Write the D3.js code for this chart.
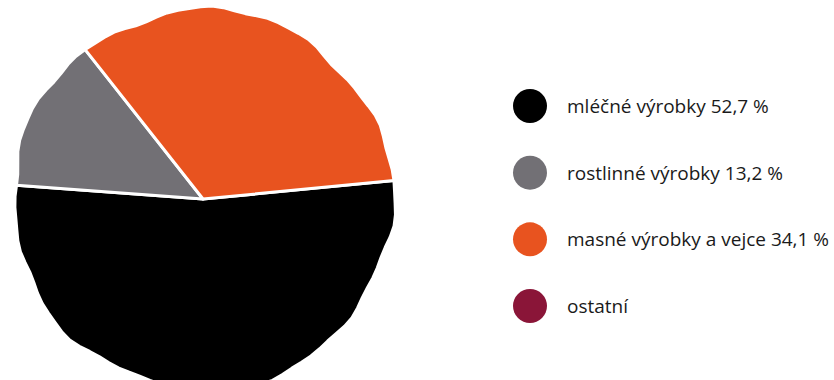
<!DOCTYPE html>
<html>
<head>
<meta charset="utf-8">
<script src="https://cdn.jsdelivr.net/npm/d3@7"></script>
<style>
  body { margin: 0; background: #fff; }
  svg { display: block; }
</style>
</head>
<body>
<div class="chart"></div>
<script>
const categories = ['mléčné výrobky', 'rostlinné výrobky', 'masné výrobky a vejce', 'ostatní']
const values = [52.7, 13.2, 34.1, 0]
const value_labels = ['52,7 %', '13,2 %', '34,1 %', '']
const colors = ['#000000', '#727075', '#e8531f', '#8a1538']

const width = 834
const height = 380
const cx = 203, cy = 199
const radius = 190

const svg = d3.select('.chart').append('svg')
  .attr('width', width)
  .attr('height', height)

const start = 84.5 * Math.PI / 180
const pie = d3.pie()
  .sort(null)
  .value(d => d.val)
  .startAngle(start)
  .endAngle(start + 2 * Math.PI)

const data = categories.map((c, i) => ({ name: c, val: values[i], label: value_labels[i], color: colors[i] }))

// hand-drawn look: slightly wobbly rim
const rim = a => radius * (1 + 0.012 * Math.sin(5 * a + 0.5) + 0.008 * Math.sin(11 * a + 2) + 0.004 * Math.sin(23 * a))

const radial = d3.lineRadial()
  .angle(d => d[0])
  .radius(d => d[1])
  .curve(d3.curveLinearClosed)

function slicePath(d) {
  const pts = [[0, 0]]
  const n = Math.max(2, Math.ceil((d.endAngle - d.startAngle) / 0.06))
  for (let k = 0; k <= n; k++) {
    const a = d.startAngle + (d.endAngle - d.startAngle) * k / n
    pts.push([a, rim(a)])
  }
  return radial(pts)
}

const g = svg.append('g')
  .attr('transform', `translate(${cx}, ${cy})`)

g.selectAll('path')
  .data(pie(data).filter(d => d.data.val > 0))
  .enter()
  .append('path')
  .attr('d', slicePath)
  .attr('fill', d => d.data.color)
  .attr('stroke', '#fff')
  .attr('stroke-width', 3)
  .attr('stroke-linejoin', 'round')

// legend
const y = d3.scalePoint()
  .domain(categories)
  .range([106, 306])

const legend = svg.append('g')

legend.selectAll('circle')
  .data(data)
  .enter()
  .append('circle')
  .attr('cx', 530)
  .attr('cy', d => y(d.name))
  .attr('r', 17)
  .attr('fill', d => d.color)

legend.selectAll('text')
  .data(data)
  .enter()
  .append('text')
  .attr('x', 567)
  .attr('y', d => y(d.name) + 7)
  .attr('font-family', 'Open Sans')
  .attr('font-size', '19px')
  .attr('fill', '#1a1a1a')
  .text(d => d.label ? `${d.name} ${d.label}` : d.name)
</script>
</body>
</html>
